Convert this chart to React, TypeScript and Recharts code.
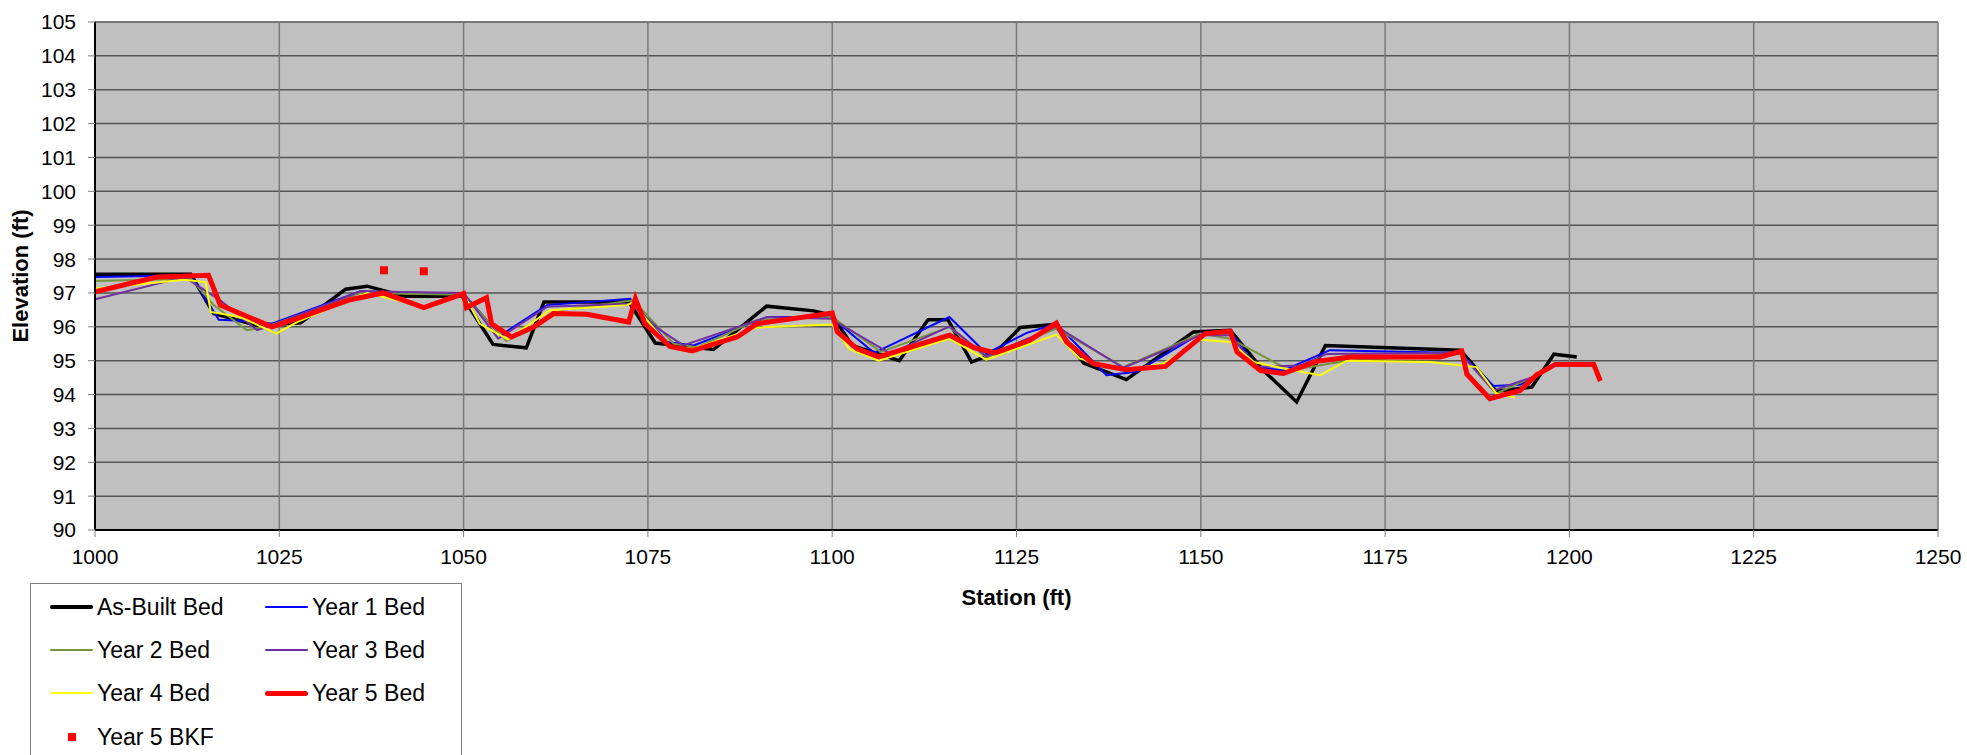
import React from "react";
import {
  ComposedChart, Line, Scatter, XAxis, YAxis, CartesianGrid,
} from "recharts";

// station (ft), elevation (ft)
const asBuiltBed: [number, number][] = [
  [1000, 97.55], [1013, 97.55], [1016.1, 96.39], [1022, 96.04], [1027.9, 96.12], [1034, 97.11],
  [1036.9, 97.2], [1042.1, 96.9], [1049.8, 96.9], [1054, 95.48], [1058.5, 95.38], [1060.9, 96.73],
  [1072.4, 96.73], [1073, 96.54], [1076, 95.52], [1083.9, 95.33], [1087.1, 95.9], [1091.1, 96.61],
  [1097.5, 96.47], [1100, 96.34], [1102.7, 95.45], [1109.1, 95.0], [1113, 96.21], [1115.7, 96.21],
  [1118.9, 94.96], [1122.1, 95.23], [1125.5, 95.98], [1130.2, 96.07], [1134.1, 94.93], [1139.9, 94.44],
  [1149, 95.85], [1154, 95.9], [1158.5, 94.71], [1163, 93.78], [1166.9, 95.45], [1185.2, 95.31],
  [1190.1, 94.1], [1194.9, 94.22], [1197.9, 95.19], [1201, 95.11],
];

const year1Bed: [number, number][] = [
  [1000, 97.47], [1013, 97.52], [1016.8, 96.21], [1020.6, 96.17], [1024, 96.09], [1036, 97.05],
  [1050, 96.97], [1055, 95.75], [1061.3, 96.64], [1072.6, 96.83], [1073.5, 96.59], [1077.6, 95.55],
  [1081.2, 95.45], [1091.2, 96.29], [1099.8, 96.29], [1105.7, 95.23], [1115.9, 96.29], [1120.9, 95.21],
  [1126.4, 95.82], [1130.4, 96.09], [1137.2, 94.57], [1141.3, 94.67], [1149.9, 95.8], [1154, 95.85],
  [1157.6, 94.81], [1161.2, 94.71], [1167.5, 95.31], [1185.2, 95.23], [1189.7, 94.25], [1193.3, 94.29],
  [1198.1, 94.88], [1201, 94.91],
];

const year2Bed: [number, number][] = [
  [1000, 97.35], [1013, 97.42], [1016.1, 96.64], [1020.6, 95.9], [1023.3, 96.0], [1036, 97.0],
  [1050, 96.95], [1055.8, 95.58], [1063.5, 96.5], [1073, 96.78], [1078.5, 95.5], [1081.7, 95.4],
  [1089.8, 96.2], [1100, 96.29], [1106.6, 95.26], [1115.9, 95.99], [1120.9, 95.1], [1130.4, 95.95],
  [1139.5, 94.81], [1149.9, 95.8], [1154, 95.65], [1162.1, 94.71], [1169.8, 95.0], [1185.2, 95.2],
  [1190.1, 94.03], [1195.1, 94.52], [1198.3, 94.91],
];

const year3Bed: [number, number][] = [
  [1000, 96.81], [1012.1, 97.47], [1017, 96.78], [1022, 95.9], [1024.7, 96.09], [1036, 97.05],
  [1050, 97.0], [1054.7, 95.65], [1061.3, 96.59], [1072.6, 96.68], [1076.7, 95.9], [1079.8, 95.45],
  [1091.2, 96.29], [1099.8, 96.24], [1107.9, 95.21], [1115.9, 96.01], [1120.9, 95.13], [1130.4, 96.01],
  [1139.5, 94.79], [1149.9, 95.75], [1154, 95.75], [1157.6, 94.81], [1163.5, 94.86], [1167.1, 95.2],
  [1185.2, 95.23], [1189.7, 94.12], [1195.1, 94.52], [1198.3, 94.89],
];

const year4Bed: [number, number][] = [
  [1000, 97.13], [1012.1, 97.39], [1015, 97.32], [1015.7, 96.44], [1019.7, 96.29], [1024.6, 95.8],
  [1027.4, 96.14], [1036.9, 97.0], [1039.1, 96.88], [1044.6, 96.6], [1050, 96.97], [1052.2, 96.09],
  [1056, 95.63], [1061.7, 96.49], [1072.2, 96.64], [1073, 96.73], [1074.9, 96.19], [1078, 95.42],
  [1081.2, 95.35], [1089.8, 95.98], [1100, 96.07], [1102.3, 95.35], [1106.3, 95.0], [1115.9, 95.65],
  [1120.9, 95.03], [1130.4, 95.77], [1133.6, 95.06], [1139.5, 94.71], [1144.9, 94.91], [1149.9, 95.62],
  [1154, 95.55], [1157.2, 94.96], [1162.1, 94.73], [1166.2, 94.57], [1169.8, 95.0], [1181.1, 94.96],
  [1187.4, 94.81], [1190.1, 94.03], [1192.6, 93.91],
];

const year5Bed: [number, number][] = [
  [1000, 97.03], [1008.4, 97.47], [1015.4, 97.52], [1017, 96.64], [1024, 96.0], [1027.4, 96.24],
  [1034.6, 96.8], [1039.1, 97.0], [1044.6, 96.57], [1050, 96.98], [1050.4, 96.57], [1053.1, 96.86],
  [1053.8, 96.09], [1056.5, 95.7], [1059.5, 95.99], [1062.2, 96.39], [1066.7, 96.37], [1072.4, 96.14],
  [1073.3, 96.83], [1074.6, 96.09], [1078, 95.42], [1081, 95.29], [1084.8, 95.55], [1087.1, 95.7],
  [1089.8, 96.09], [1100, 96.41], [1100.7, 95.85], [1103.4, 95.35], [1106.3, 95.11], [1115.9, 95.75],
  [1119.3, 95.38], [1122.1, 95.23], [1126.8, 95.6], [1130.4, 96.11], [1131.8, 95.55], [1135.4, 94.91],
  [1139.9, 94.73], [1145.2, 94.83], [1150.6, 95.8], [1154, 95.87], [1154.9, 95.26], [1158.1, 94.71],
  [1161.2, 94.62], [1165.7, 94.98], [1170.3, 95.11], [1182.5, 95.11], [1185.4, 95.28], [1186.1, 94.6],
  [1189.2, 93.88], [1193.3, 94.12], [1195.6, 94.59], [1198.1, 94.89], [1203.3, 94.89], [1204.2, 94.4],
];

const year5Bkf: [number, number][] = [[1039.2, 97.67], [1044.6, 97.64]];

const stationTicks = [1000, 1025, 1050, 1075, 1100, 1125, 1150, 1175, 1200, 1225, 1250];
const elevationTicks = [90, 91, 92, 93, 94, 95, 96, 97, 98, 99, 100, 101, 102, 103, 104, 105];

const toPoints = (rows: [number, number][]) => rows.map(([x, y]) => ({ x, y }));

const lines = [
  { name: "As-Built Bed", rows: asBuiltBed, color: "#000000", width: 3.5 },
  { name: "Year 1 Bed", rows: year1Bed, color: "#0000FF", width: 2 },
  { name: "Year 2 Bed", rows: year2Bed, color: "#77933C", width: 2 },
  { name: "Year 3 Bed", rows: year3Bed, color: "#7030A0", width: 2 },
  { name: "Year 4 Bed", rows: year4Bed, color: "#FFFF00", width: 2 },
  { name: "Year 5 Bed", rows: year5Bed, color: "#FF0000", width: 5 },
];

const font = '"Liberation Sans", Arial, sans-serif';

function Legend() {
  const rowTop = [23, 66, 109];
  return (
    <div
      style={{
        position: "absolute", left: 30, top: 583, width: 430, height: 185,
        border: "1px solid #808080", background: "#fff", fontFamily: font, fontSize: 23,
      }}
    >
      {lines.map((l, i) => {
        const col = i % 2;
        const top = rowTop[Math.floor(i / 2)];
        const lineLeft = col === 0 ? 19 : 234;
        return (
          <div key={l.name}>
            <div
              style={{
                position: "absolute", left: lineLeft, top: top - l.width / 2, width: 43,
                height: l.width, background: l.color, borderRadius: l.width / 2,
              }}
            />
            <div style={{ position: "absolute", left: lineLeft + 47, top: top - 14, lineHeight: "28px" }}>
              {l.name}
            </div>
          </div>
        );
      })}
      <div style={{ position: "absolute", left: 37, top: 153 - 4, width: 8, height: 8, background: "#FF0000" }} />
      <div style={{ position: "absolute", left: 66, top: 153 - 14, lineHeight: "28px" }}>Year 5 BKF</div>
    </div>
  );
}

export default function App() {
  return (
    <div style={{ position: "absolute", left: 0, top: 0, width: 1967, height: 755, overflow: "hidden", background: "#fff" }}>
      <ComposedChart width={1967} height={755} margin={{ top: 22, right: 29, bottom: 150, left: 15 }}>
        <CartesianGrid vertical={false} stroke="#555555" strokeWidth={1.5} fill="#C0C0C0" />
        <CartesianGrid horizontal={false} stroke="#7a7a7a" strokeWidth={1.5} />
        <XAxis
          type="number"
          dataKey="x"
          domain={[1000, 1250]}
          ticks={stationTicks}
          interval={0}
          height={75}
          tickSize={7}
          tickMargin={12}
          axisLine={{ stroke: "#000", strokeWidth: 2 }}
          tickLine={{ stroke: "#808080" }}
          tick={{ fill: "#000", fontSize: 21, fontFamily: font }}
          label={{ value: "Station (ft)", position: "insideBottom", offset: 0, fill: "#000", fontSize: 22, fontWeight: "bold", fontFamily: font }}
          allowDataOverflow
        />
        <YAxis
          type="number"
          dataKey="y"
          domain={[90, 105]}
          ticks={elevationTicks}
          interval={0}
          width={80}
          tickSize={7}
          tickMargin={12}
          axisLine={{ stroke: "#000", strokeWidth: 2 }}
          tickLine={{ stroke: "#808080" }}
          tick={{ fill: "#000", fontSize: 21, fontFamily: font }}
          label={{
            value: "Elevation (ft)", angle: -90, position: "insideLeft", offset: 5,
            fill: "#000", fontSize: 22, fontWeight: "bold", fontFamily: font, style: { textAnchor: "middle" },
          }}
          allowDataOverflow
        />
        {lines.map((l) => (
          <Line
            key={l.name}
            name={l.name}
            data={toPoints(l.rows)}
            dataKey="y"
            stroke={l.color}
            strokeWidth={l.width}
            dot={false}
            activeDot={false}
            isAnimationActive={false}
          />
        ))}
        <Scatter
          name="Year 5 BKF"
          data={toPoints(year5Bkf)}
          dataKey="y"
          fill="#FF0000"
          isAnimationActive={false}
          shape={(p: any) => <rect x={p.cx - 4} y={p.cy - 4} width={8} height={8} fill="#FF0000" />}
        />
      </ComposedChart>
      <Legend />
    </div>
  );
}
